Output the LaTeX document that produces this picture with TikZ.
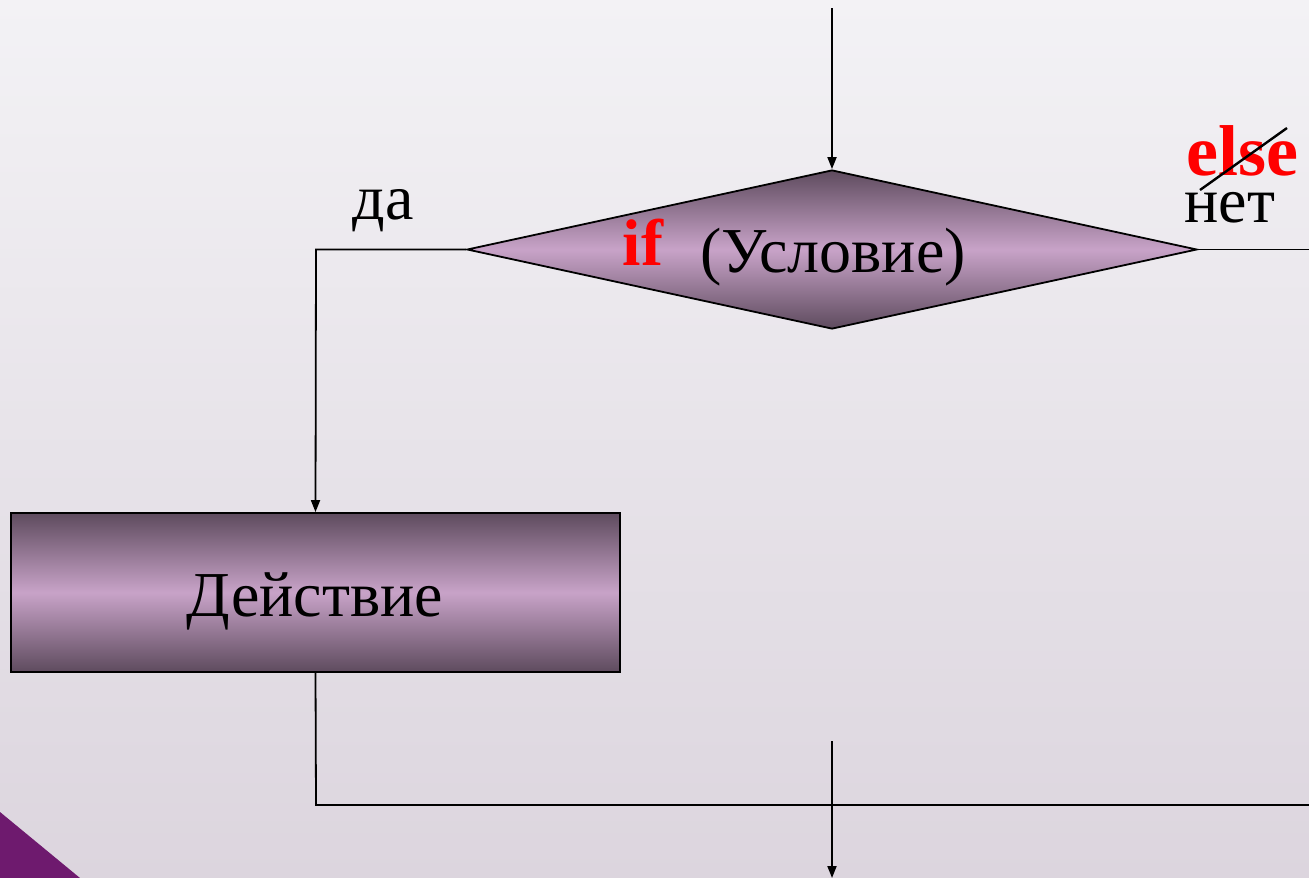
\documentclass[tikz,border=0pt]{standalone}
\usepackage{fontspec}
\setmainfont{Liberation Serif}
\usetikzlibrary{shapes.geometric,arrows.meta}
\definecolor{bgtop}{HTML}{F3F2F5}
\definecolor{bgbot}{HTML}{DCD5DE}
\definecolor{plum}{HTML}{6E1A6E}
\definecolor{shdark}{HTML}{5E4B5E}
\definecolor{shlight}{HTML}{C8A3C8}
\tikzset{
  conn/.style={line width=1.8pt, draw=black},
  arr/.style={conn, -{Triangle[length=12pt,width=9pt]}},
  shadebox/.style={top color=shdark, bottom color=shdark, middle color=shlight, draw=black, line width=1.8pt},
  lbl/.style={font=\fontsize{64}{66}\selectfont, text=black, inner sep=0pt},
  redlbl/.style={font=\fontsize{66}{68}\selectfont\bfseries, text=red, inner sep=0pt}
}
\begin{document}
\begin{tikzpicture}[x=1pt,y=-1pt]
\useasboundingbox (0,0) rectangle (1309,878);
\fill[top color=bgtop, bottom color=bgbot] (0,0) rectangle (1309,878);
\fill[plum] (0,812) -- (80,878) -- (0,878) -- cycle;

\node[shadebox, diamond, minimum width=730pt, minimum height=159pt, inner sep=0pt] (cond) at (832,249.5) {};
\node[shadebox, rectangle, minimum width=609pt, minimum height=159pt, inner sep=0pt] (act) at (315.5,592.5) {};

\node[redlbl, anchor=base] (iftxt) at (643,265) {if};
\node[lbl, anchor=base] (condtxt) at (833,272) {(Условие)};
\node[lbl, anchor=base] (acttxt) at (315,616) {Действие};
\node[lbl, anchor=base] (yes) at (383,219) {да};
\node[lbl, anchor=base] (no) at (1230,222) {нет};
\node[redlbl, anchor=base west, font=\fontsize{72}{74}\selectfont\bfseries] (elsetxt) at (1186,175) {else};

\coordinate (top) at (832,8);
\coordinate (yescorner) at (316,249.5);
\coordinate (noend) at (1309,249.5);
\coordinate (merge) at (316,805);
\coordinate (mergeend) at (1309,805);
\coordinate (outstart) at (832,741);
\coordinate (outend) at (832,878);
\coordinate (slashA) at (1200,190);
\coordinate (slashB) at (1287,128);

\draw[arr] (top) -- (cond.north);
\draw[arr] (cond.west) -- (yescorner) -- (act.north);
\draw[conn] (cond.east) -- (noend);
\draw[conn] (act.south) -- (merge) -- (mergeend);
\draw[arr] (outstart) -- (outend);
\draw[line width=2.4pt] (slashA) -- (slashB);
\end{tikzpicture}
\end{document}
